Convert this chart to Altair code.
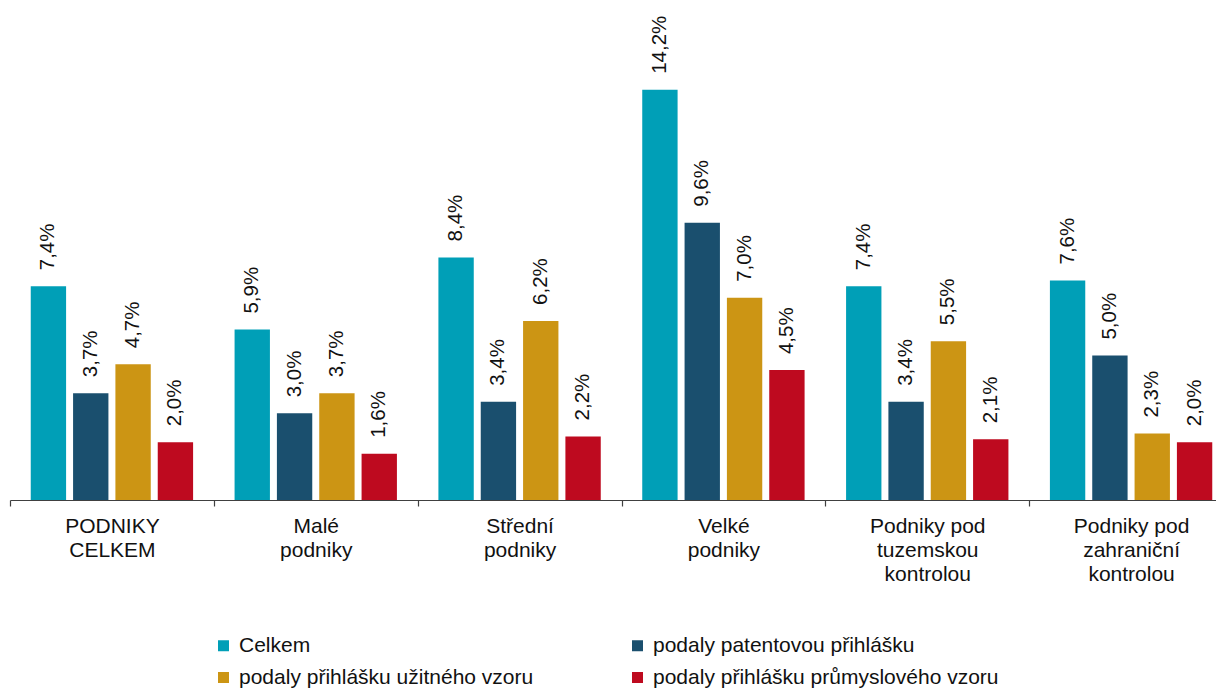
import altair as alt
import pandas as pd

categories = [
    "PODNIKY|CELKEM",
    "Malé|podniky",
    "Střední|podniky",
    "Velké|podniky",
    "Podniky pod|tuzemskou|kontrolou",
    "Podniky pod|zahraniční|kontrolou",
]
series = [
    "Celkem",
    "podaly patentovou přihlášku",
    "podaly přihlášku užitného vzoru",
    "podaly přihlášku průmyslového vzoru",
]
celkem = [7.4, 5.9, 8.4, 14.2, 7.4, 7.6]
patent = [3.7, 3.0, 3.4, 9.6, 3.4, 5.0]
uzitny = [4.7, 3.7, 6.2, 7.0, 5.5, 2.3]
prumysl = [2.0, 1.6, 2.2, 4.5, 2.1, 2.0]
colors = ["#009FB7", "#1A4F6E", "#CC9514", "#BE0A1F"]

rows = []
for s, vals in zip(series, [celkem, patent, uzitny, prumysl]):
    for c, v in zip(categories, vals):
        rows.append({"kat": c, "serie": s, "hodnota": v,
                     "popisek": f"{v:.1f}".replace(".", ",") + "%"})
df = pd.DataFrame(rows)

FONT = "Liberation Sans"

x = alt.X("kat:N", sort=categories,
          scale=alt.Scale(paddingInner=0, paddingOuter=0, rangeMin=0, rangeMax=1223),
          axis=alt.Axis(title=None, labelAngle=0, labelExpr="split(datum.label, '|')",
                        tickBand="extent", tickSize=6, tickColor="#404040",
                        domainColor="#404040", domainWidth=1.2, tickWidth=1.2,
                        labelFont=FONT, labelFontSize=21, labelColor="#111111",
                        labelLineHeight=24, labelPadding=9, labelBaseline="top"))
xo = alt.XOffset("serie:N", sort=series,
                 scale=alt.Scale(paddingInner=0.165, paddingOuter=0.49))
y = alt.Y("hodnota:Q", scale=alt.Scale(domain=[0, 17]), axis=None)

bars = alt.Chart(df).mark_bar().encode(
    x=x, xOffset=xo, y=y,
    color=alt.Color("serie:N", sort=series,
                    scale=alt.Scale(domain=series, range=colors),
                    legend=alt.Legend(orient="none", legendX=203, legendY=626,
                                      direction="horizontal", columns=2,
                                      symbolType="square", symbolSize=121,
                                      symbolStrokeWidth=0, symbolOpacity=1,
                                      labelFont=FONT, labelFontSize=21,
                                      labelColor="#111111", labelOffset=5,
                                      labelLimit=600, columnPadding=93,
                                      rowPadding=10, title=None)),
)

labels = alt.Chart(df).mark_text(angle=270, align="left", baseline="middle",
                                 dx=16, font=FONT, fontSize=20.5, color="#111111").encode(
    x=x, xOffset=xo, y=y, text="popisek:N"
)

chart = alt.layer(bars, labels).properties(
    width=1206, height=491,
    autosize=alt.AutoSizeParams(type="none"),
    padding={"left": 2, "top": 1, "right": 0, "bottom": 192},
).configure_view(stroke=None)

chart.save("out.html", embed_options={"renderer": "svg", "actions": False})
